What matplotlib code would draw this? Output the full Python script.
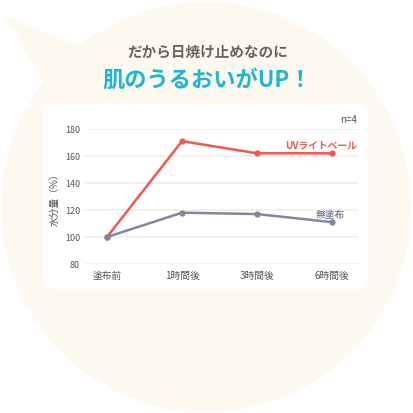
import numpy as np
import matplotlib.pyplot as plt
from matplotlib.patches import Circle, Polygon, FancyBboxPatch

plt.rcParams['font.family'] = ['Noto Sans CJK JP', 'DejaVu Sans']

# データ
categories = ["塗布前", "1時間後", "3時間後", "6時間後"]
uv_veil = [100, 171, 162, 162]
no_coat = [100, 118, 117, 111]
y_ticks = [80, 100, 120, 140, 160, 180]

W, H = 413, 414
fig = plt.figure(figsize=(W / 100, H / 100), dpi=100)
fig.patch.set_facecolor("white")

# 背景（吹き出し）
bg = fig.add_axes([0, 0, 1, 1])
bg.set_xlim(0, W)
bg.set_ylim(H, 0)
bg.axis("off")
cream = "#FEF9EE"
bg.add_patch(Circle((206, 208), 205, color=cream, lw=0))
bg.add_patch(Polygon([(5, 17), (80, 47), (45, 85)], closed=True, color=cream, lw=0))
bg.add_patch(FancyBboxPatch((43, 105), 325, 185, boxstyle="round,pad=0,rounding_size=9",
                            fc="white", ec="none"))

bg.text(208, 52, "だから日焼け止めなのに", ha="center", va="center",
        fontsize=10.5, color="#6B625C", fontweight="bold")
bg.text(207, 80, "肌のうるおいがUP！", ha="center", va="center",
        fontsize=16, color="#1DB6D6", fontweight="bold")

# グラフ
ax = fig.add_axes([85 / W, 1 - 265 / H, 273 / W, 135 / H])
ax.set_facecolor("none")
x = np.arange(len(categories))
red = "#F2574C"
grey = "#8088A0"
ax.plot(x, uv_veil, color=red, lw=1.8, marker="o", ms=3.5, zorder=3, clip_on=False)
ax.plot(x, no_coat, color=grey, lw=1.8, marker="o", ms=3.5, zorder=3, clip_on=False)

ax.set_xlim(-22 / 75, 3 + 26 / 75)
ax.set_ylim(80, 180)
ax.set_yticks(y_ticks)
ax.set_xticks(x)
ax.set_xticklabels(categories)
ax.grid(axis="y", color="#F1EEEA", lw=1.2)
ax.grid(axis="x", visible=False)
for s in ax.spines.values():
    s.set_visible(False)
ax.tick_params(axis="y", length=0, pad=3.5, labelsize=6.5, labelcolor="#555555")
ax.tick_params(axis="x", length=0, pad=4, labelsize=7, labelcolor="#555555")
ax.set_ylabel("水分量（%）", fontsize=7, color="#555555", labelpad=4)

ax.text(3.33, 164.5, "UVライトベール", ha="right", va="bottom", fontsize=7,
        color=red, fontweight="bold")
ax.text(3.17, 113.5, "無塗布", ha="right", va="bottom", fontsize=7,
        color=grey, fontweight="bold")
ax.text(3.33, 184, "n=4", ha="right", va="bottom", fontsize=7, color="#555555")

fig.savefig("out.png", dpi=100)
